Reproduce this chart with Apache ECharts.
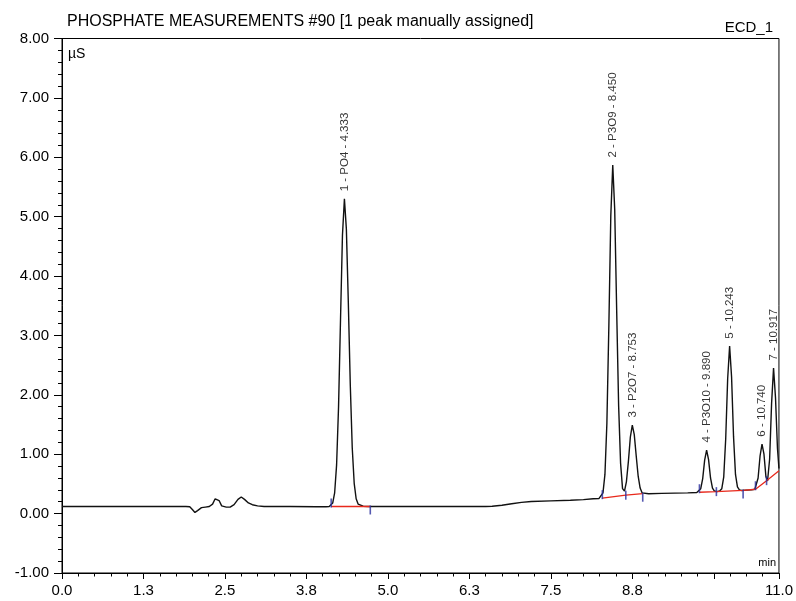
<!DOCTYPE html>
<html>
<head>
<meta charset="utf-8">
<script src="https://cdn.jsdelivr.net/npm/echarts@6/dist/echarts.min.js"></script>
<style>
html,body{margin:0;padding:0;background:#fff;}
#chart{width:796px;height:601px;}
</style>
</head>
<body>
<div id="chart"></div>
<script>
// ---- data ----
const titleText = 'PHOSPHATE MEASUREMENTS #90 [1 peak manually assigned]';
const channelText = 'ECD_1';
const unitText = 'µS';
const xUnitText = 'min';

const signalTime = [
  0, 0.5, 1.0, 1.5, 1.9,
  1.96, 2.00, 2.04, 2.08, 2.14, 2.20, 2.26, 2.31, 2.35, 2.38, 2.41, 2.45, 2.52, 2.58, 2.64, 2.70, 2.75, 2.80, 2.86, 2.92, 3.00, 3.10,
  3.5, 3.9, 4.05, 4.10,
  4.123, 4.153, 4.183, 4.213, 4.243, 4.273, 4.303, 4.333, 4.363, 4.393, 4.423, 4.453, 4.483, 4.513, 4.543, 4.573, 4.62, 4.70,
  5.0, 5.5, 6.0, 6.5, 6.6, 6.75, 6.9, 7.05, 7.2, 7.5, 7.8, 8.0, 8.15, 8.24,
  8.27, 8.30, 8.33, 8.36, 8.39, 8.42, 8.45, 8.48, 8.51, 8.54, 8.57, 8.60, 8.63,
  8.66, 8.69, 8.72, 8.75, 8.78, 8.81, 8.84, 8.87, 8.90, 8.93,
  9.0, 9.2, 9.4, 9.6, 9.74,
  9.77, 9.80, 9.83, 9.86, 9.89, 9.92, 9.95, 9.98, 10.01, 10.05,
  10.093, 10.123, 10.153, 10.183, 10.213, 10.243, 10.273, 10.303, 10.333, 10.363, 10.393, 10.43,
  10.5, 10.58, 10.63,
  10.65, 10.68, 10.71, 10.74, 10.77, 10.80, 10.825,
  10.857, 10.887, 10.917, 10.947, 10.977, 11.0
];
const signalValue = [
  0.12, 0.12, 0.12, 0.12, 0.12,
  0.115, 0.07, 0.02, 0.05, 0.10, 0.11, 0.12, 0.16, 0.25, 0.28, 0.22, 0.13, 0.11, 0.11, 0.15, 0.24, 0.28, 0.24, 0.18, 0.15, 0.13, 0.12,
  0.12, 0.115, 0.115, 0.12,
  0.131, 0.177, 0.348, 0.82, 1.80, 3.26, 4.69, 5.30, 4.79, 3.55, 2.17, 1.11, 0.51, 0.25, 0.16, 0.135, 0.125, 0.12,
  0.12, 0.12, 0.12, 0.12, 0.125, 0.14, 0.165, 0.19, 0.205, 0.215, 0.225, 0.235, 0.25, 0.255,
  0.27, 0.35, 0.66, 1.52, 3.15, 5.01, 5.87, 5.12, 3.43, 1.82, 0.85, 0.42, 0.38,
  0.54, 0.88, 1.29, 1.49, 1.33, 0.97, 0.63, 0.43, 0.35, 0.335,
  0.335, 0.34, 0.345, 0.35, 0.355,
  0.37, 0.42, 0.59, 0.90, 1.07, 0.91, 0.60, 0.43, 0.38, 0.37,
  0.384, 0.42, 0.62, 1.26, 2.27, 2.82, 2.30, 1.30, 0.66, 0.45, 0.40, 0.39,
  0.395, 0.40, 0.41,
  0.44, 0.60, 0.97, 1.17, 1.00, 0.62, 0.55,
  0.92, 1.86, 2.45, 1.95, 1.10, 0.76
];

// integration baselines (red)
const baseline1Time = [4.13, 4.73];
const baseline1Value = [0.12, 0.12];
const baseline2Time = [8.29, 8.65, 8.91];
const baseline2Value = [0.26, 0.31, 0.335];
const baseline3Time = [9.78, 10.04, 10.45, 10.64, 10.81, 11.0];
const baseline3Value = [0.36, 0.37, 0.39, 0.41, 0.555, 0.72];

// peak delimiters (blue)
const delimStartTime = [4.13, 8.29, 9.78, 10.64];
const delimStartValue = [0.12, 0.26, 0.36, 0.41];
const delimMidTime = [8.65, 10.04, 10.81];
const delimMidValue = [0.31, 0.37, 0.555];
const delimEndTime = [4.73, 8.91, 10.45];
const delimEndValue = [0.12, 0.335, 0.39];

// peaks
const peakNumber = [1, 2, 3, 4, 5, 6, 7];
const peakName = ['PO4', 'P3O9', 'P2O7', 'P3O10', '', '', ''];
const peakRT = ['4.333', '8.450', '8.753', '9.890', '10.243', '10.740', '10.917'];
const peakTime = [4.333, 8.450, 8.753, 9.890, 10.243, 10.740, 10.917];
const peakHeight = [5.30, 5.87, 1.49, 1.07, 2.82, 1.17, 2.45];

// axes
const xMin = 0, xMax = 11, xStep = 1.25;
const yMin = -1, yMax = 8, yStep = 1;

// ---- build ----
const zip = (a, b) => a.map((v, i) => [v, b[i]]);
const FONT = 'Liberation Sans, Arial, Helvetica, sans-serif';

const chart = echarts.init(document.getElementById('chart'), null, {renderer: 'canvas'});

const baselineSeries = [[baseline1Time, baseline1Value], [baseline2Time, baseline2Value], [baseline3Time, baseline3Value]].map(([t, v]) => ({
  type: 'line', data: zip(t, v), showSymbol: false, silent: true, z: 3,
  lineStyle: {color: '#e8291c', width: 1.3}
}));

const delimSeries = (t, v, off) => ({
  type: 'scatter', data: zip(t, v), symbol: 'rect', symbolSize: [1.6, 9], symbolOffset: [0, off],
  itemStyle: {color: '#2b2f9e'}, silent: true, z: 4
});

chart.setOption({
  animation: false,
  backgroundColor: '#fff',
  title: [
    {text: titleText, left: 62, top: 9, textStyle: {fontFamily: FONT, fontSize: 16, fontWeight: 'normal', color: '#000'}}
  ],
  grid: {left: 62, right: 16, top: 38.5, bottom: 28, show: true, borderColor: '#000', borderWidth: 1, backgroundColor: 'transparent'},
  graphic: [
    {type: 'text', right: 23, top: 20, style: {text: channelText, font: '15px ' + FONT, fill: '#000'}},
    {type: 'text', left: 68, top: 47, style: {text: unitText, font: '14px ' + FONT, fill: '#000'}},
    {type: 'text', right: 20, top: 557, style: {text: xUnitText, font: '11px ' + FONT, fill: '#000'}}
  ],
  xAxis: {
    type: 'value', min: xMin, max: xMax, interval: xStep,
    axisLine: {show: true, onZero: false, lineStyle: {color: '#000', width: 1}},
    axisTick: {show: true, length: 6, lineStyle: {color: '#000'}},
    minorTick: {show: true, splitNumber: 5, length: 3.5, lineStyle: {color: '#000'}},
    splitLine: {show: false},
    axisLabel: {
      margin: 10, fontFamily: FONT, fontSize: 15, color: '#000', showMaxLabel: true, showMinLabel: true,
      formatter: v => (Math.abs(v - 10) < 1e-9 ? '' : v.toFixed(1))
    }
  },
  yAxis: {
    type: 'value', min: yMin, max: yMax, interval: yStep,
    axisLine: {show: true, onZero: false, lineStyle: {color: '#000', width: 1}},
    axisTick: {show: true, length: 8, lineStyle: {color: '#000'}},
    minorTick: {show: true, splitNumber: 5, length: 4, lineStyle: {color: '#000'}},
    splitLine: {show: false},
    axisLabel: {margin: 13, fontFamily: FONT, fontSize: 15, color: '#000', formatter: v => v.toFixed(2)}
  },
  series: [
    {
      type: 'line', data: zip(signalTime, signalValue), showSymbol: false, silent: true, z: 2,
      lineStyle: {color: '#111', width: 1.4}
    },
    ...baselineSeries,
    delimSeries(delimStartTime, delimStartValue, -3.5),
    delimSeries(delimMidTime, delimMidValue, 0),
    delimSeries(delimEndTime, delimEndValue, 3.5),
    {
      type: 'scatter', silent: true, z: 5, symbolSize: 1, itemStyle: {color: 'rgba(0,0,0,0)'},
      data: peakTime.map((t, i) => ({
        value: [t, peakHeight[i]],
        label: {formatter: peakName[i] ? `${peakNumber[i]} - ${peakName[i]} - ${peakRT[i]}` : `${peakNumber[i]} - ${peakRT[i]}`}
      })),
      label: {
        show: true, position: 'top', rotate: 90, align: 'left', verticalAlign: 'middle', distance: 7,
        fontFamily: FONT, fontSize: 11.5, color: '#000'
      }
    }
  ]
});
</script>
</body>
</html>
